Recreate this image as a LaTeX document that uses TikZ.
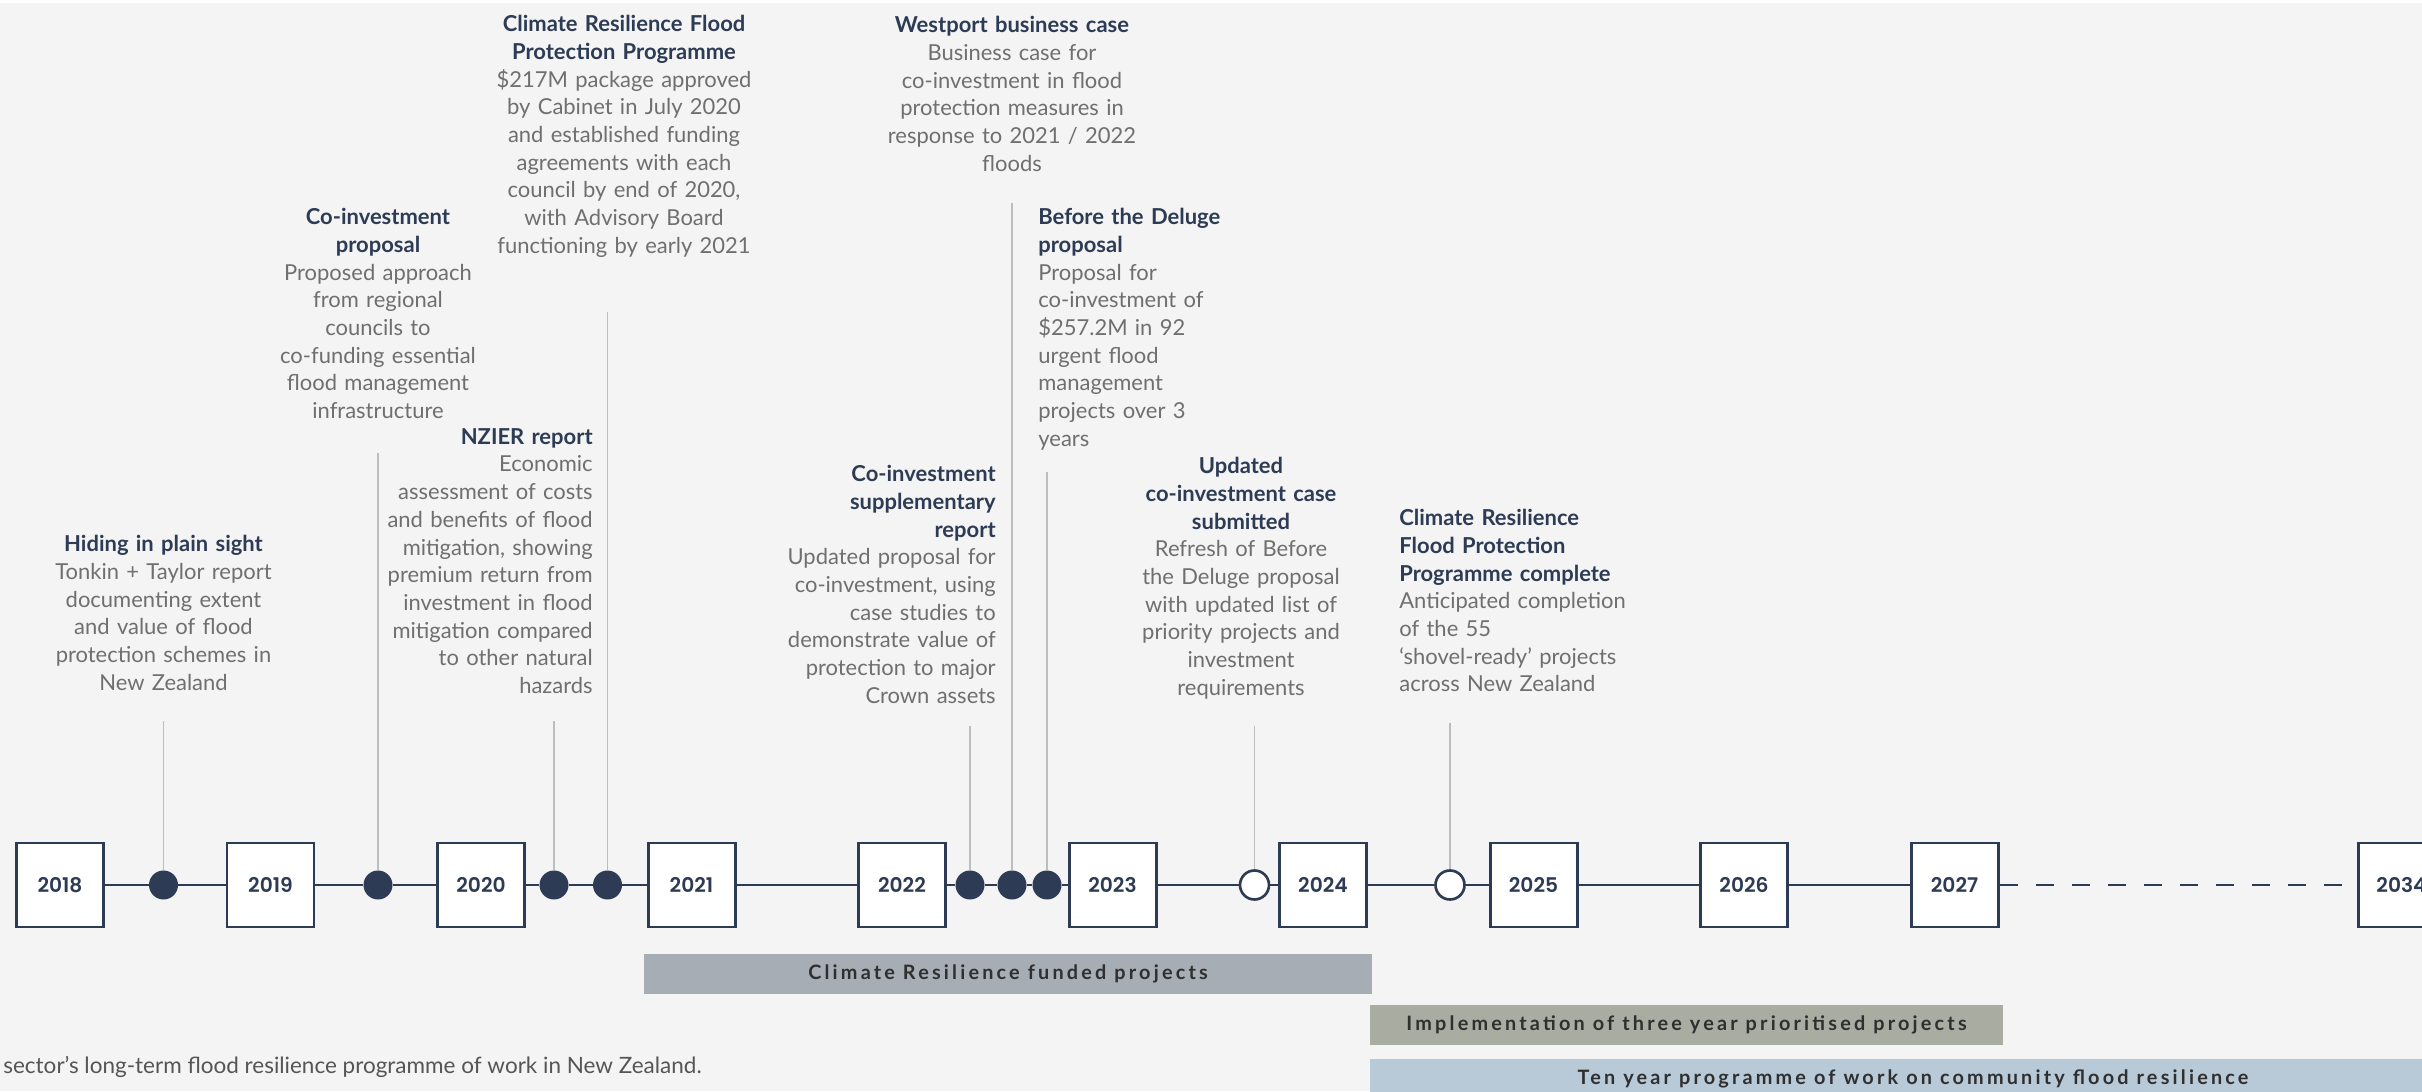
\documentclass[tikz,border=0pt]{standalone}
\usepackage{fontspec}
\setmainfont{Lato}
\newfontfamily\yearfont{Poppins SemiBold}
\newfontfamily\barfont{Lato}[LetterSpace=16]
\usetikzlibrary{positioning}

\definecolor{navy}{HTML}{2D3B55}
\definecolor{bodygray}{HTML}{6F6F6F}
\definecolor{footgray}{HTML}{555555}
\definecolor{stemgray}{HTML}{BDBDBD}
\definecolor{bgcol}{HTML}{F4F4F4}
\definecolor{fundcol}{HTML}{A6ADB4}
\definecolor{implcol}{HTML}{A8ACA1}
\definecolor{tencol}{HTML}{B8C9D7}
\definecolor{bartext}{HTML}{2F2F2F}

\newcommand{\evtitle}[1]{{\bfseries\color{navy}#1}}

\tikzset{
  yearbox/.style={draw=navy, line width=1.7pt, fill=white, minimum width=1.74cm, minimum height=1.68cm, inner sep=0pt, text=navy, font=\yearfont\fontsize{11.5}{13}\selectfont},
  eventdot/.style={circle, fill=navy, minimum size=0.58cm, inner sep=0pt},
  opendot/.style={circle, draw=navy, fill=white, line width=1.5pt, minimum size=0.58cm, inner sep=0pt},
  tline/.style={navy, line width=1.7pt},
  stemline/.style={stemgray, line width=0.8pt},
  evtext/.style={inner sep=0pt, text width=6cm, text=bodygray, font=\fontsize{12.5}{15.76}\selectfont},
  projbar/.style={minimum height=0.8cm, inner sep=0pt, text=bartext, font=\barfont\bfseries\fontsize{11.3}{13}\selectfont}
}

\begin{document}
\begin{tikzpicture}
    % Page
    \useasboundingbox (0,0) rectangle (48.44,21.82);
    \clip (0,0) rectangle (48.44,21.82);
    \fill[bgcol] (0,0) rectangle (48.44,21.82);
    \fill[white] (0,21.76) rectangle (48.44,21.82);

    % Years
    \foreach \yr [count=\i from 0] in {2018,...,2027}
        \node[yearbox] (y\yr) at ({1.2+4.21*\i},4.12) {\yr};
    \node[yearbox] (y2034) at (48.03,4.12) {2034};

    % Events on the line
    \node[eventdot] (dHiding) at (3.27,4.12) {};
    \node[eventdot] (dProposal) at (7.56,4.12) {};
    \node[eventdot] (dNzier) at (11.08,4.12) {};
    \node[eventdot] (dProgramme) at (12.15,4.12) {};
    \node[eventdot] (dSupp) at (19.40,4.12) {};
    \node[eventdot] (dWestport) at (20.24,4.12) {};
    \node[eventdot] (dDeluge) at (20.94,4.12) {};
    \node[opendot] (dUpdated) at (25.09,4.12) {};
    \node[opendot] (dComplete) at (29.00,4.12) {};

    % Timeline
    \draw[tline] (y2018) -- (dHiding) -- (y2019) -- (dProposal) -- (y2020) -- (dNzier) -- (dProgramme) -- (y2021)
        -- (y2022) -- (dSupp) -- (dWestport) -- (dDeluge) -- (y2023) -- (dUpdated) -- (y2024) -- (dComplete)
        -- (y2025) -- (y2026) -- (y2027);
    \draw[tline, dash pattern=on 0.36cm off 0.36cm] (y2027) -- (y2034);

    % Stems
    \coordinate (sHiding) at (3.27,7.40);
    \coordinate (sProposal) at (7.56,12.76);
    \coordinate (sNzier) at (11.08,7.40);
    \coordinate (sProgramme) at (12.15,15.58);
    \coordinate (sSupp) at (19.40,7.30);
    \coordinate (sWestport) at (20.24,17.76);
    \coordinate (sDeluge) at (20.94,12.38);
    \coordinate (sUpdated) at (25.09,7.30);
    \coordinate (sComplete) at (29.00,7.36);
    \foreach \ev in {Hiding,Proposal,Nzier,Programme,Supp,Westport,Deluge,Updated,Complete}
        \draw[stemline] (s\ev) -- (d\ev);

    % Event texts
    \node[evtext, align=center, anchor=north] (tHiding) at (3.27,11.12)
        {\evtitle{Hiding in plain sight}\\ Tonkin + Taylor report\\ documenting extent\\ and value of flood\\ protection schemes in\\ New Zealand};
    \node[evtext, align=center, anchor=north] (tProposal) at (7.56,17.66)
        {\evtitle{Co-investment\\ proposal}\\ Proposed approach\\ from regional\\ councils to\\ co-funding essential\\ flood management\\ infrastructure};
    \node[evtext, align=center, anchor=north] (tProgramme) at (12.48,21.52)
        {\evtitle{Climate Resilience Flood\\ Protection Programme}\\ \$217M package approved\\ by Cabinet in July 2020\\ and established funding\\ agreements with each\\ council by end of 2020,\\ with Advisory Board\\ functioning by early 2021};
    \node[evtext, align=right, anchor=north east] (tNzier) at (11.86,13.26)
        {\evtitle{NZIER report}\\ Economic\\ assessment of costs\\ and benefits of flood\\ mitigation, showing\\ premium return from\\ investment in flood\\ mitigation compared\\ to other natural\\ hazards};
    \node[evtext, align=center, anchor=north] (tWestport) at (20.24,21.50)
        {\evtitle{Westport business case}\\ Business case for\\ co-investment in flood\\ protection measures in\\ response to 2021 / 2022\\ floods};
    \node[evtext, align=left, anchor=north west] (tDeluge) at (20.76,17.66)
        {\evtitle{Before the Deluge\\ proposal}\\ Proposal for\\ co-investment of\\ \$257.2M in 92\\ urgent flood\\ management\\ projects over 3\\ years};
    \node[evtext, align=right, anchor=north east] (tSupp) at (19.92,12.52)
        {\evtitle{Co-investment\\ supplementary\\ report}\\ Updated proposal for\\ co-investment, using\\ case studies to\\ demonstrate value of\\ protection to major\\ Crown assets};
    \node[evtext, align=center, anchor=north] (tUpdated) at (24.82,12.68)
        {\evtitle{Updated\\ co-investment case\\ submitted}\\ Refresh of Before\\ the Deluge proposal\\ with updated list of\\ priority projects and\\ investment\\ requirements};
    \node[evtext, align=left, anchor=north west] (tComplete) at (27.98,11.64)
        {\evtitle{Climate Resilience\\ Flood Protection\\ Programme complete}\\ Anticipated completion\\ of the 55\\ ‘shovel-ready’ projects\\ across New Zealand};

    % Project bars
    \node[projbar, fill=fundcol, minimum width=14.56cm] (fundBar) at (20.16,2.34) {Climate Resilience funded projects};
    \node[projbar, fill=implcol, minimum width=12.66cm] (implBar) at (33.73,1.32) {Implementation of three year prioritised projects};
    \node[projbar, fill=tencol, minimum width=21.72cm] (tenBar) at (38.26,0.24) {Ten year programme of work on community flood resilience};

    % Caption
    \node[anchor=west, inner sep=0pt, text=footgray, font=\fontsize{12.8}{15}\selectfont] (caption) at (0.06,0.48)
        {sector’s long-term flood resilience programme of work in New Zealand.};
\end{tikzpicture}
\end{document}
